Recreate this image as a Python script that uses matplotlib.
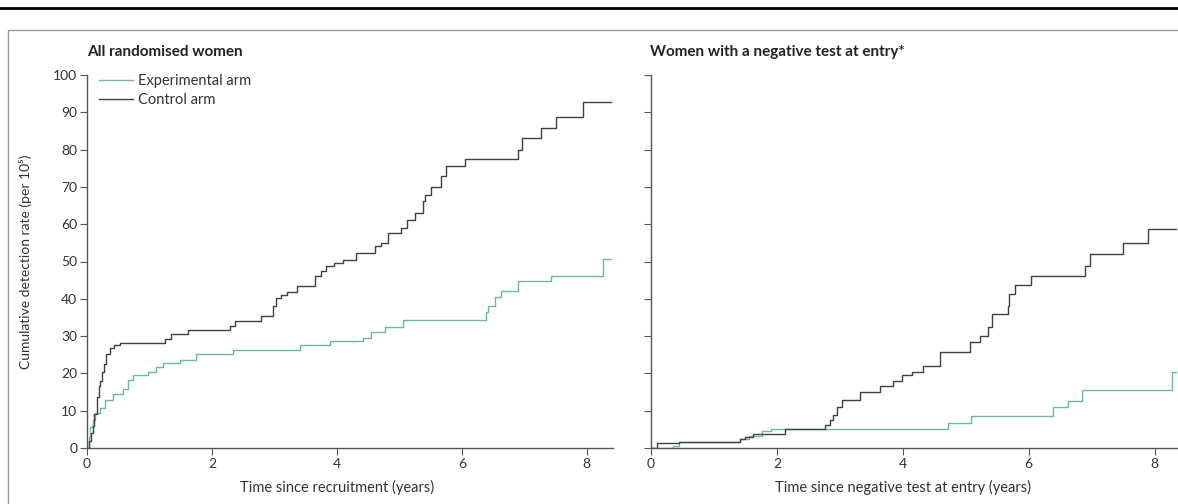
import matplotlib
matplotlib.use('Agg')
import matplotlib.pyplot as plt
from matplotlib.lines import Line2D

plt.rcParams['font.family'] = ['Lato', 'DejaVu Sans']

# left panel: all randomised women (years, rate per 10^5)
all_ctrl_t = [0, 0.03, 0.06, 0.09, 0.12, 0.155, 0.19, 0.21, 0.24, 0.27, 0.30, 0.37, 0.43, 0.53,
              1.25, 1.35, 1.62, 2.29, 2.37, 2.79, 2.98, 3.02, 3.1, 3.2, 3.36, 3.65, 3.75, 3.83,
              3.95, 4.1, 4.31, 4.61, 4.7, 4.82, 5.03, 5.12, 5.25, 5.38, 5.41, 5.51, 5.67, 5.75,
              6.05, 6.9, 6.97, 7.27, 7.51, 7.94, 8.39]
all_ctrl_v = [0, 2, 4, 6, 9, 13.7, 16.5, 18, 20.4, 22.5, 25.3, 26.7, 27.6, 28.1,
              29.3, 30.6, 31.7, 32.8, 34.0, 35.5, 38.0, 40.3, 41.0, 41.7, 43.5, 46.1, 47.5, 48.8,
              49.7, 50.5, 52.3, 54.1, 55.0, 57.7, 59.0, 61.2, 63.0, 66.1, 67.9, 69.9, 72.8, 75.7,
              77.5, 79.9, 83.0, 85.9, 88.8, 92.8, 92.8]
all_exp_t = [0, 0.03, 0.05, 0.09, 0.13, 0.21, 0.29, 0.42, 0.58, 0.66, 0.74, 0.98, 1.11, 1.22,
             1.49, 1.75, 2.34, 3.41, 3.89, 4.42, 4.55, 4.77, 5.06, 6.39, 6.42, 6.53, 6.63, 6.9,
             7.43, 8.26, 8.39]
all_exp_v = [0, 3, 5.7, 7.5, 9.3, 10.8, 12.8, 14.6, 15.9, 18.1, 19.5, 20.4, 21.7, 22.8,
             23.5, 25.2, 26.3, 27.5, 28.6, 29.5, 31.0, 32.4, 34.3, 36.4, 38.1, 40.4, 42.1, 44.8,
             46.1, 50.6, 50.6]

# right panel: women with a negative test at entry
neg_ctrl_t = [0, 0.1, 0.45, 1.42, 1.5, 1.62, 2.13, 2.76, 2.84, 2.89, 2.95, 3.03, 3.32, 3.63,
              3.85, 3.98, 4.14, 4.32, 4.59, 5.06, 5.22, 5.35, 5.41, 5.67, 5.69, 5.78, 6.04,
              6.89, 6.97, 7.49, 7.89, 8.34]
neg_ctrl_v = [0, 1.3, 1.7, 2.4, 3.0, 3.7, 5.2, 6.2, 7.5, 8.8, 11.0, 12.8, 15.0, 16.5,
              17.9, 19.5, 20.5, 21.9, 25.7, 28.4, 30.1, 32.4, 35.9, 38.1, 41.4, 43.7, 46.1,
              48.8, 52.1, 55.0, 58.8, 58.8]
neg_exp_t = [0, 0.35, 0.45, 1.42, 1.55, 1.76, 1.9, 4.72, 5.09, 6.39, 6.62, 6.85, 8.28, 8.34]
neg_exp_v = [0, 0.5, 1.7, 2.4, 3.2, 4.6, 5.0, 6.6, 8.6, 11.0, 12.6, 15.5, 20.4, 20.4]

x_ticks = [0, 2, 4, 6, 8]
y_ticks = list(range(0, 101, 10))

ctrl_col = '#404040'
exp_col = '#6ab8a6'
axis_col = '#555555'
text_col = '#333333'

fig = plt.figure(figsize=(11.78, 5.04), dpi=100)
ax1 = fig.add_axes([87 / 1178, 56 / 504, 526 / 1178, 373 / 504])
ax2 = fig.add_axes([651 / 1178, 56 / 504, 527 / 1178, 373 / 504])

ax1.step(all_exp_t, all_exp_v, where='post', color=exp_col, lw=1.0, label='Experimental arm')
ax1.step(all_ctrl_t, all_ctrl_v, where='post', color=ctrl_col, lw=1.0, label='Control arm')
ax2.step(neg_exp_t, neg_exp_v, where='post', color=exp_col, lw=1.0)
ax2.step(neg_ctrl_t, neg_ctrl_v, where='post', color=ctrl_col, lw=1.0)

for ax, xmax in [(ax1, 8.42), (ax2, 8.37)]:
    ax.set_xlim(0, xmax)
    ax.set_ylim(0, 100)
    ax.set_xticks(x_ticks)
    ax.set_yticks(y_ticks)
    for s in ['top', 'right']:
        ax.spines[s].set_visible(False)
    for s in ['left', 'bottom']:
        ax.spines[s].set_color(axis_col)
        ax.spines[s].set_linewidth(1)
    ax.tick_params(direction='out', length=5, width=0.8, color=axis_col,
                   labelcolor=text_col, labelsize=10, pad=2)
    ax.set_facecolor('none')

ax2.set_yticklabels([])

ax1.set_ylabel('Cumulative detection rate (per 10\u2075)', fontsize=10, color=text_col)
ax1.yaxis.set_label_coords(-0.105, 0.5)
ax1.set_xlabel('Time since recruitment (years)', fontsize=10.5, color=text_col)
ax1.xaxis.set_label_coords(4 / 8.42, -0.085)
ax2.set_xlabel('Time since negative test at entry (years)', fontsize=10.5, color=text_col)
ax2.xaxis.set_label_coords(4 / 8.37, -0.085)

fig.text(87 / 1178, 1 - 52 / 504, 'All randomised women', fontsize=11, fontweight='bold',
         color='#222222', va='center', ha='left')
fig.text(650 / 1178, 1 - 52 / 504, 'Women with a negative test at entry*', fontsize=11,
         fontweight='bold', color='#222222', va='center', ha='left')

leg = ax1.legend(loc='upper left', bbox_to_anchor=(92 / 1178, 1 - 67 / 504),
                 bbox_transform=fig.transFigure, frameon=False, fontsize=10.5,
                 handlelength=2.3, handletextpad=0.35, labelspacing=0.35, borderpad=0)
for t in leg.get_texts():
    t.set_color(text_col)

# page rule and panel box
fig.add_artist(Line2D([0, 1], [1 - 8 / 504] * 2, color='black', lw=2))
fig.add_artist(Line2D([8 / 1178, 8 / 1178, 1], [0, 1 - 30 / 504, 1 - 30 / 504],
                      color='#9a9a9a', lw=1))

fig.savefig('out.png', dpi=100, facecolor='white')
